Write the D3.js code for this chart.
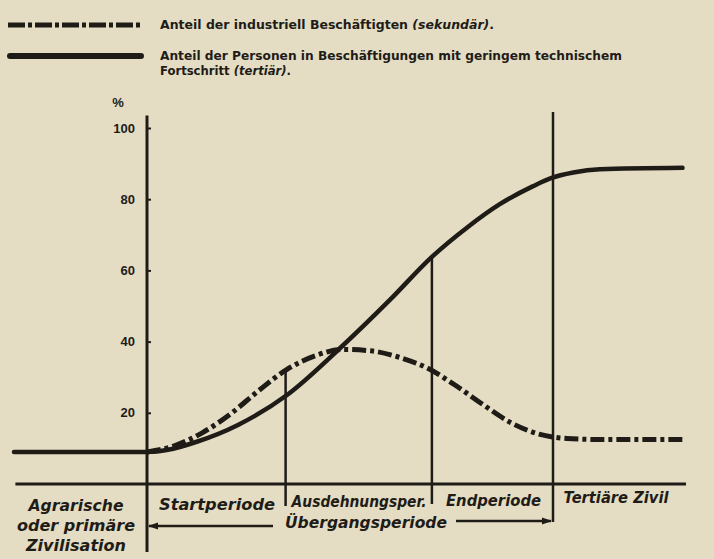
<!DOCTYPE html>
<html>
<head>
<meta charset="utf-8">
<script src="https://cdn.jsdelivr.net/npm/d3@7"></script>
<style>
  html, body { margin: 0; padding: 0; background: #e4ddc3; }
  svg { display: block; }
  .legend-text { font-family: "Liberation Sans Narrow", "DejaVu Sans Condensed", sans-serif; font-weight: bold; font-size: 12.5px; fill: #1f1c18; }
  .period { font-family: "DejaVu Sans", sans-serif; font-style: italic; font-weight: 600; font-size: 15px; fill: #1f1c18; }
  .tick text { font-family: "Liberation Sans", sans-serif; font-weight: bold; font-size: 13px; fill: #1f1c18; }
</style>
</head>
<body>
<script>
// time axis is abstract (0..100), values in percent
const timeTertiary = [1, 20, 23, 27, 33, 40, 47.6, 54.7, 60.7, 65.7, 70.4, 75.1, 77.7, 80.9, 84.7, 96.5];
const tertiary = [9, 9, 9.6, 11.8, 16.6, 25, 38.2, 51.7, 63.8, 72, 78.6, 83.6, 85.9, 87.5, 88.4, 88.8];

const timeSecondary = [20, 24, 28, 32, 36, 40, 44, 48, 52, 56, 60, 64, 68, 72, 76, 80, 85, 96.5];
const secondary = [9, 10.8, 14.5, 19.8, 26.3, 32.2, 36, 37.8, 37.4, 35.6, 32.6, 27.8, 22.3, 17.2, 14, 12.8, 12.5, 12.5];

const yTicks = [20, 40, 60, 80, 100];

// period boundaries (time) and the height (%) where each divider starts
const boundaries = [20, 39.8, 60.7, 78];
const boundaryTops = [103.5, 32.1, 63.8, 104.5];

const legendLabels = [
  "Anteil der industriell Beschäftigten",
  "Anteil der Personen in Beschäftigungen mit geringem technischem",
  "Fortschritt"
];
const periodLabels = ["Startperiode", "Ausdehnungsper.", "Endperiode", "Tertiäre Zivil"];
const agrarLabels = ["Agrarische", "oder primäre", "Zivilisation"];
const transitionLabel = "Übergangsperiode";

const width = 714, height = 559;
const ink = "#1f1c18";

const x = d3.scaleLinear().domain([0, 100]).range([7, 707]);
const y = d3.scaleLinear().domain([0, 100]).range([484, 128]);

const svg = d3.select("body")
  .append("svg")
  .attr("width", width)
  .attr("height", height);

// legend
const legend = svg.append("g").attr("class", "legend");

legend.append("line")
  .attr("x1", 8).attr("x2", 142)
  .attr("y1", 25).attr("y2", 25)
  .attr("stroke", ink)
  .attr("stroke-width", 5)
  .attr("stroke-dasharray", "17 3 4 3");

legend.append("line")
  .attr("x1", 10).attr("x2", 141)
  .attr("y1", 56).attr("y2", 56)
  .attr("stroke", ink)
  .attr("stroke-width", 6)
  .attr("stroke-linecap", "round");

const t1 = legend.append("text").attr("class", "legend-text")
  .attr("x", 160).attr("y", 29)
  .attr("textLength", 334)
  .attr("lengthAdjust", "spacingAndGlyphs");
t1.append("tspan").text(legendLabels[0] + " ");
t1.append("tspan").attr("font-style", "italic").text("(sekundär)");
t1.append("tspan").text(".");

legend.append("text").attr("class", "legend-text")
  .attr("x", 160).attr("y", 60)
  .attr("textLength", 462)
  .attr("lengthAdjust", "spacingAndGlyphs")
  .text(legendLabels[1]);

const t3 = legend.append("text").attr("class", "legend-text")
  .attr("x", 160).attr("y", 75)
  .attr("textLength", 131)
  .attr("lengthAdjust", "spacingAndGlyphs");
t3.append("tspan").text(legendLabels[2] + " ");
t3.append("tspan").attr("font-style", "italic").text("(tertiär)");
t3.append("tspan").text(".");

// y axis
svg.append("text")
  .attr("x", 118).attr("y", 107)
  .attr("text-anchor", "middle")
  .attr("font-family", "Liberation Sans, sans-serif")
  .attr("font-weight", "bold")
  .attr("font-size", 13)
  .attr("fill", ink)
  .text("%");

const yAxis = d3.axisLeft(y)
  .tickValues(yTicks)
  .tickSizeInner(-4)
  .tickSizeOuter(0)
  .tickPadding(12);

svg.append("g")
  .attr("transform", `translate(${x(20)},0)`)
  .call(yAxis)
  .call(g => g.select(".domain").remove())
  .call(g => g.selectAll(".tick line").attr("stroke", ink).attr("stroke-width", 2));

// x axis line
svg.append("line")
  .attr("x1", x(1.2)).attr("x2", x(97))
  .attr("y1", y(0)).attr("y2", y(0))
  .attr("stroke", ink)
  .attr("stroke-width", 3);

// period dividers
const bottoms = [552, 506, 504, 522];
svg.selectAll(".divider")
  .data(boundaries)
  .enter()
  .append("line")
  .attr("class", "divider")
  .attr("x1", d => x(d)).attr("x2", d => x(d))
  .attr("y1", (d, i) => y(boundaryTops[i]))
  .attr("y2", (d, i) => bottoms[i])
  .attr("stroke", ink)
  .attr("stroke-width", (d, i) => i === 0 ? 3 : 2.5);

// curves
const line = d3.line()
  .x(d => x(d[0]))
  .y(d => y(d[1]))
  .curve(d3.curveMonotoneX);

svg.append("path")
  .datum(d3.zip(timeTertiary, tertiary))
  .attr("fill", "none")
  .attr("stroke", ink)
  .attr("stroke-width", 4.5)
  .attr("stroke-linecap", "round")
  .attr("d", line);

svg.append("path")
  .datum(d3.zip(timeSecondary, secondary))
  .attr("fill", "none")
  .attr("stroke", ink)
  .attr("stroke-width", 5)
  .attr("stroke-dasharray", "14 4 4 4")
  .attr("d", line);

// period labels
const periodMid = [30, 50.3, 69.5, 87];
const periodWidths = [116, 135, 95, 105];
const periodBase = [510, 507, 506, 503];
svg.selectAll(".period-label")
  .data(periodLabels)
  .enter()
  .append("text")
  .attr("class", "period period-label")
  .attr("x", (d, i) => x(periodMid[i]))
  .attr("y", (d, i) => periodBase[i])
  .attr("text-anchor", "middle")
  .attr("textLength", (d, i) => periodWidths[i])
  .attr("lengthAdjust", "spacingAndGlyphs")
  .text(d => d);

const agrarWidths = [95, 118, 100];
svg.selectAll(".agrar-label")
  .data(agrarLabels)
  .enter()
  .append("text")
  .attr("class", "period agrar-label")
  .attr("x", 76)
  .attr("y", (d, i) => 511 + i * 20)
  .attr("text-anchor", "middle")
  .attr("textLength", (d, i) => agrarWidths[i])
  .attr("lengthAdjust", "spacingAndGlyphs")
  .text(d => d);

svg.append("text")
  .attr("class", "period")
  .attr("x", 366).attr("y", 528)
  .attr("text-anchor", "middle")
  .attr("textLength", 162)
  .attr("lengthAdjust", "spacingAndGlyphs")
  .text(transitionLabel);

// transition arrows
svg.append("defs").append("marker")
  .attr("id", "arrow")
  .attr("viewBox", "0 0 10 10")
  .attr("refX", 9).attr("refY", 5)
  .attr("markerWidth", 5).attr("markerHeight", 4)
  .attr("orient", "auto")
  .append("path")
  .attr("d", "M0,1.5 L10,5 L0,8.5 Z")
  .attr("fill", ink);

svg.append("line")
  .attr("x1", 273).attr("x2", x(20) + 2)
  .attr("y1", 526).attr("y2", 526)
  .attr("stroke", ink).attr("stroke-width", 2.5)
  .attr("marker-end", "url(#arrow)");

svg.append("line")
  .attr("x1", 456).attr("x2", x(78) - 2)
  .attr("y1", 521).attr("y2", 521)
  .attr("stroke", ink).attr("stroke-width", 2.5)
  .attr("marker-end", "url(#arrow)");
</script>
</body>
</html>
